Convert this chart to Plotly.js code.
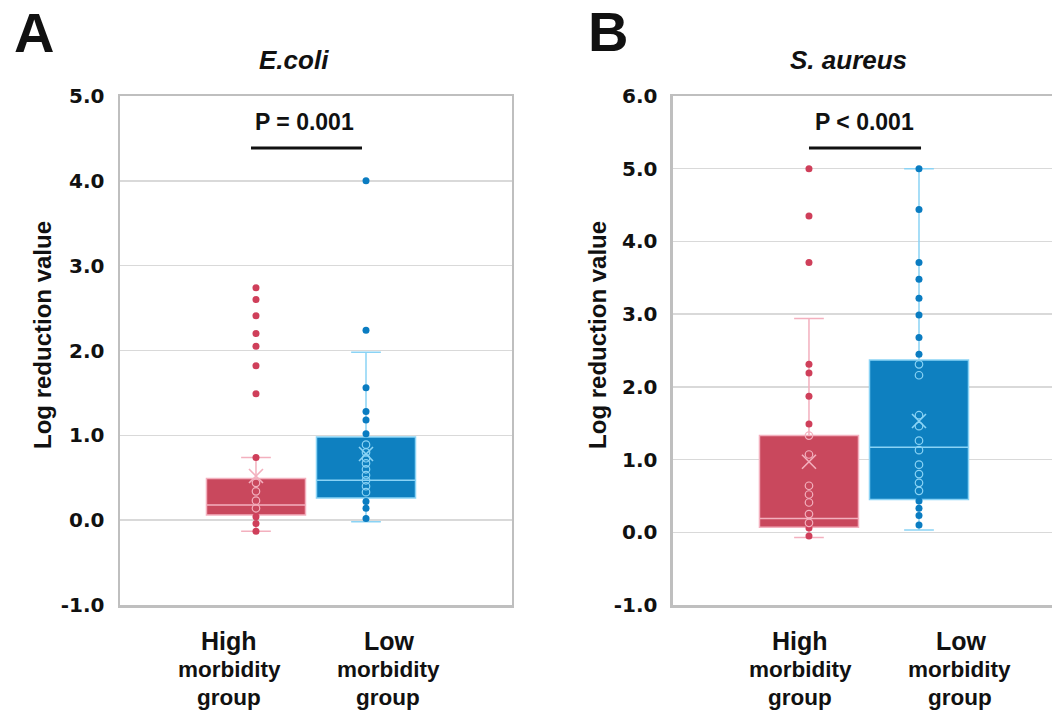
<!DOCTYPE html>
<html>
<head>
<meta charset="utf-8">
<script src="https://cdn.plot.ly/plotly-3.0.1.min.js"></script>
<style>
  html, body { margin: 0; padding: 0; background: #ffffff; }
  #chart { width: 1052px; height: 717px; }
</style>
</head>
<body>
<div id="chart"></div>
<script>
// ---------- data ----------
const groups = ["High", "Low"];

// Panel A: E.coli — individual visible values
const ecoliHigh = [2.74, 2.60, 2.41, 2.20, 2.05, 1.82, 1.49, 0.74, 0.44, 0.34, 0.23, 0.14, 0.04, -0.04, -0.13];
const ecoliLow  = [4.00, 2.24, 1.56, 1.28, 1.18, 1.02, 0.89, 0.80, 0.73, 0.67, 0.60, 0.53, 0.47, 0.40, 0.33, 0.22, 0.14, 0.02];
// Panel A box statistics [High, Low]
const ecoliQ1     = [0.06, 0.26];
const ecoliMedian = [0.18, 0.47];
const ecoliQ3     = [0.49, 0.98];
const ecoliLowerW = [-0.13, -0.02];
const ecoliUpperW = [0.74, 1.98];
const ecoliMean   = [0.52, 0.78];
const ecoliTicks  = [-1, 0, 1, 2, 3, 4, 5];

// Panel B: S. aureus — individual visible values
const aureusHigh = [5.00, 4.35, 3.71, 2.31, 2.19, 1.87, 1.49, 1.33, 1.07, 0.64, 0.52, 0.41, 0.25, 0.13, 0.06, -0.05];
const aureusLow  = [5.00, 4.44, 3.71, 3.48, 3.22, 2.99, 2.68, 2.45, 2.31, 2.16, 1.61, 1.46, 1.26, 1.13, 0.93, 0.80, 0.68, 0.57, 0.43, 0.33, 0.23, 0.10];
// Panel B box statistics [High, Low]
const aureusQ1     = [0.07, 0.45];
const aureusMedian = [0.19, 1.17];
const aureusQ3     = [1.33, 2.37];
const aureusLowerW = [-0.07, 0.03];
const aureusUpperW = [2.94, 5.00];
const aureusMean   = [0.97, 1.53];
const aureusTicks  = [-1, 0, 1, 2, 3, 4, 5, 6];

// ---------- styles ----------
const fillCol  = ["#c9485d", "#0e80c0"];
const dotCol   = ["#cf3f5a", "#0a7cc1"];
const lightCol = ["#f3b0be", "#8ad3f5"];

function panelTraces(xa, ya, values, q1, med, q3, lw, uw, mean) {
  const out = [];
  groups.forEach((g, i) => {
    out.push({
      type: "box", xaxis: xa, yaxis: ya,
      x: [g], q1: [q1[i]], median: [med[i]], q3: [q3[i]],
      lowerfence: [lw[i]], upperfence: [uw[i]],
      boxpoints: false, boxmean: false,
      width: 0.9, whiskerwidth: 0.3,
      fillcolor: fillCol[i],
      line: { color: lightCol[i], width: 1.5 },
      hoverinfo: "skip"
    });
    const v = values[i];
    const outside = v.filter(d => d < q1[i] || d > q3[i]);
    const inside = v.filter(d => d >= q1[i] && d <= q3[i]);
    out.push({
      type: "scatter", mode: "markers", xaxis: xa, yaxis: ya,
      x: outside.map(() => g), y: outside,
      marker: { symbol: "circle", size: 7, color: dotCol[i] },
      hoverinfo: "y"
    });
    out.push({
      type: "scatter", mode: "markers", xaxis: xa, yaxis: ya,
      x: inside.map(() => g), y: inside,
      marker: { symbol: "circle-open", size: 7.5, color: lightCol[i], line: { width: 1.2, color: lightCol[i] } },
      hoverinfo: "y"
    });
    out.push({
      type: "scatter", mode: "markers", xaxis: xa, yaxis: ya,
      x: [g], y: [mean[i]],
      marker: { symbol: "x-thin-open", size: 14, color: lightCol[i], line: { width: 1.6, color: lightCol[i] } },
      hoverinfo: "y"
    });
  });
  return out;
}

const traces = []
  .concat(panelTraces("x", "y", [ecoliHigh, ecoliLow], ecoliQ1, ecoliMedian, ecoliQ3, ecoliLowerW, ecoliUpperW, ecoliMean))
  .concat(panelTraces("x2", "y2", [aureusHigh, aureusLow], aureusQ1, aureusMedian, aureusQ3, aureusLowerW, aureusUpperW, aureusMean));

const frame = "#bfbfbf";
const tickFont = { family: "DejaVu Sans", size: 20, color: "#111111", weight: "bold" };
const txt = "Liberation Sans, Arial, sans-serif";

function xAxis(domain, range) {
  return {
    domain: domain, type: "category", categoryarray: groups, range: range,
    showticklabels: false, showgrid: false, zeroline: false,
    showline: true, mirror: true, linecolor: frame, linewidth: 2.5,
    fixedrange: true
  };
}
function yAxis(anchor, range, ticks) {
  return {
    anchor: anchor, domain: [0.1562, 0.8661], range: range,
    tickmode: "array", tickvals: ticks, ticktext: ticks.map(t => t.toFixed(1)),
    showgrid: true, gridcolor: "#d9d9d9", gridwidth: 1.5, zeroline: false,
    showline: true, mirror: true, linecolor: frame, linewidth: 2.5,
    ticks: "", ticklabelstandoff: 9, tickfont: tickFont, fixedrange: true
  };
}

function ann(text, x, y, size, extra) {
  return Object.assign({
    text: text, xref: "paper", yref: "paper", x: x, y: y,
    xanchor: "center", yanchor: "middle", showarrow: false,
    font: { family: txt, size: size, color: "#111111" }
  }, extra || {});
}

const annotations = [
  ann("<b>A</b>", 0.0323, 0.954, 56),
  ann("<b>B</b>", 0.578, 0.956, 56),
  ann("<b><i>E.coli</i></b>", 0.2795, 0.9163, 26),
  ann("<b><i>S. aureus</i></b>", 0.8061, 0.9163, 26),
  ann("<b>P = 0.001</b>", 0.2899, 0.8298, 23),
  ann("<b>P &lt; 0.001</b>", 0.8213, 0.8298, 23),
  ann("<b>Log reduction value</b>", 0.0409, 0.5328, 24, { textangle: -90 }),
  ann("<b>Log reduction value</b>", 0.5684, 0.5328, 24, { textangle: -90 }),
  // x category labels
  ann("<b>High</b>", 0.2177, 0.106, 25),
  ann("<b>morbidity</b>", 0.2177, 0.0656, 22.5),
  ann("<b>group</b>", 0.2177, 0.0265, 22.5),
  ann("<b>Low</b>", 0.3698, 0.106, 25),
  ann("<b>morbidity</b>", 0.3690, 0.0656, 22.5),
  ann("<b>group</b>", 0.3690, 0.0265, 22.5),
  ann("<b>High</b>", 0.7605, 0.106, 25),
  ann("<b>morbidity</b>", 0.7605, 0.0656, 22.5),
  ann("<b>group</b>", 0.7605, 0.0265, 22.5),
  ann("<b>Low</b>", 0.9135, 0.106, 25),
  ann("<b>morbidity</b>", 0.9125, 0.0656, 22.5),
  ann("<b>group</b>", 0.9125, 0.0265, 22.5)
];

const shapes = [
  { type: "line", xref: "paper", yref: "paper", x0: 0.2386, x1: 0.3441, y0: 0.7936, y1: 0.7936, line: { color: "#111111", width: 3 } },
  { type: "line", xref: "paper", yref: "paper", x0: 0.7690, x1: 0.8755, y0: 0.7936, y1: 0.7936, line: { color: "#111111", width: 3 } }
];

const layout = {
  width: 1052, height: 717,
  margin: { l: 0, r: 0, t: 0, b: 0 },
  paper_bgcolor: "#ffffff", plot_bgcolor: "#ffffff",
  showlegend: false, boxmode: "overlay",
  xaxis: xAxis([0.11407, 0.48669], [-1.236, 2.327]),
  yaxis: yAxis("x", [-1, 5], ecoliTicks),
  xaxis2: xAxis([0.63973, 1.0], [-1.236, 2.209]),
  yaxis2: yAxis("x2", [-1, 6], aureusTicks),
  annotations: annotations,
  shapes: shapes,
  font: { family: txt, color: "#111111" }
};

Plotly.newPlot("chart", traces, layout, { displayModeBar: false, staticPlot: true });
</script>
</body>
</html>
